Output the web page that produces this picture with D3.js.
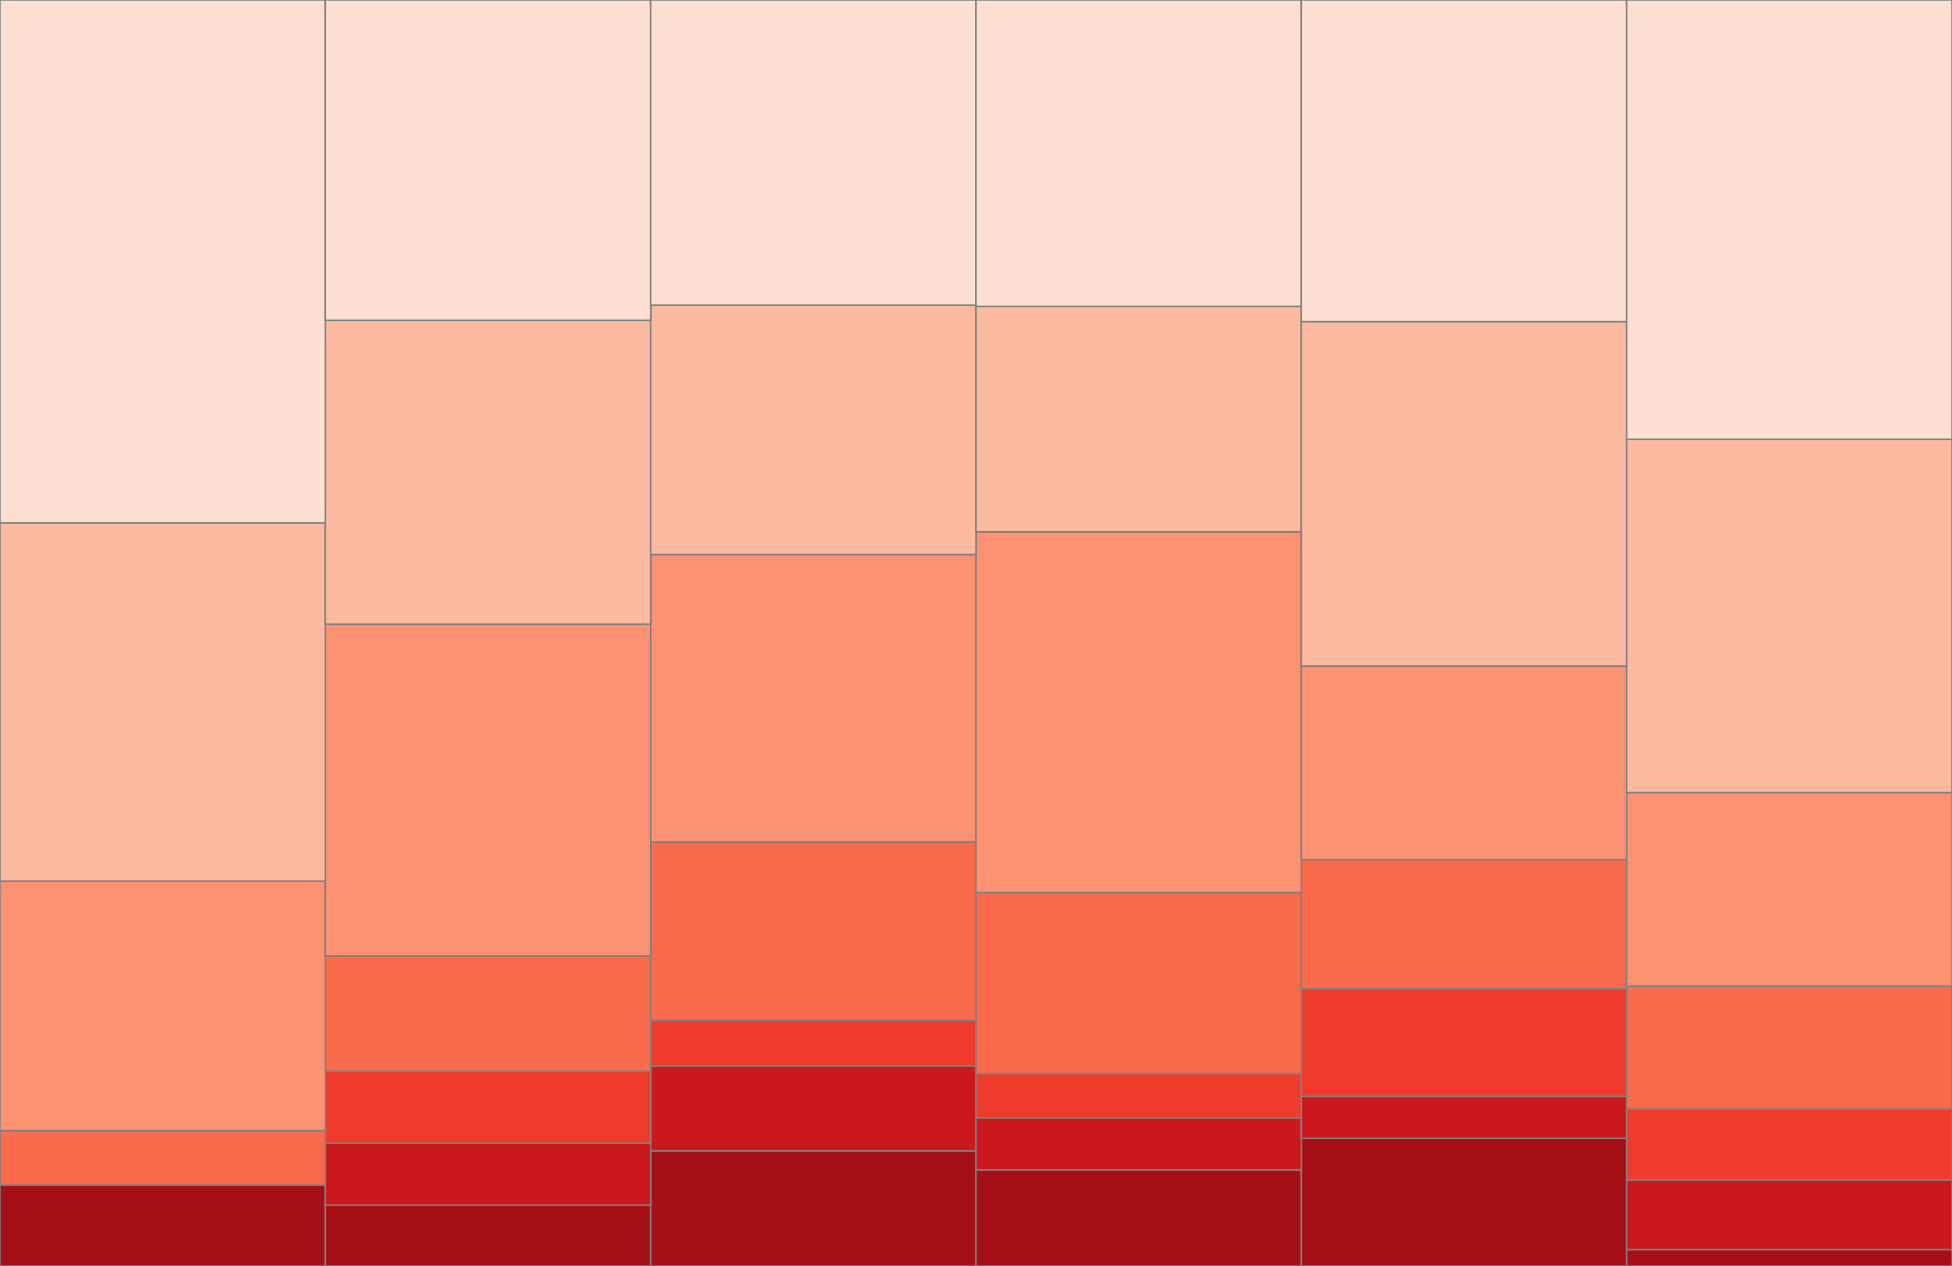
<!DOCTYPE html>
<html><head><meta charset="utf-8">
<script src="https://cdn.jsdelivr.net/npm/d3@7"></script>
<style>html,body{margin:0;padding:0;background:#fff;overflow:hidden}</style>
</head><body>
<svg id="chart" width="1952" height="1266"></svg>
<script>
const categories = ["A", "B", "C", "D", "E", "F"];
const seriesNames = ["s1", "s2", "s3", "s4", "s5", "s6", "s7"]; // bottom to top
const s1 = [6.4, 4.8, 9.1, 7.6, 10.1, 1.3];
const s2 = [0.0, 4.9, 6.7, 4.1, 3.3, 5.5];
const s3 = [0.0, 5.7, 3.6, 3.5, 8.5, 5.6];
const s4 = [4.3, 9.1, 14.1, 14.3, 10.2, 9.7];
const s5 = [19.7, 26.2, 22.7, 28.5, 15.3, 15.3];
const s6 = [28.3, 24.0, 19.7, 17.8, 27.2, 27.9];
const s7 = [41.3, 25.3, 24.1, 24.2, 25.4, 34.7];
const seriesValues = [s1, s2, s3, s4, s5, s6, s7];
const colors = ["#a50f15", "#cb181d", "#ef3b2c", "#fb6a4a", "#fc9272", "#fcbba1", "#fee0d2"];

const W = 1952, H = 1266;
const rows = categories.map((c, i) => {
  const r = {cat: c};
  seriesNames.forEach((s, j) => r[s] = seriesValues[j][i]);
  return r;
});
const stack = d3.stack().keys(seriesNames).offset(d3.stackOffsetExpand);
const layers = stack(rows);
const x = d3.scaleBand().domain(categories).range([0, W]).padding(0);
const y = d3.scaleLinear().domain([0, 1]).range([H, 0]);
const color = d3.scaleOrdinal().domain(seriesNames).range(colors);

const svg = d3.select("#chart");
svg.selectAll("g.layer").data(layers).join("g").attr("class", "layer")
  .attr("fill", d => color(d.key))
  .selectAll("rect").data(d => d).join("rect")
  .attr("x", d => x(d.data.cat))
  .attr("width", x.bandwidth())
  .attr("y", d => y(d[1]))
  .attr("height", d => y(d[0]) - y(d[1]))
  .attr("stroke", "#808080")
  .attr("stroke-width", 1.5);
</script>
</body></html>
